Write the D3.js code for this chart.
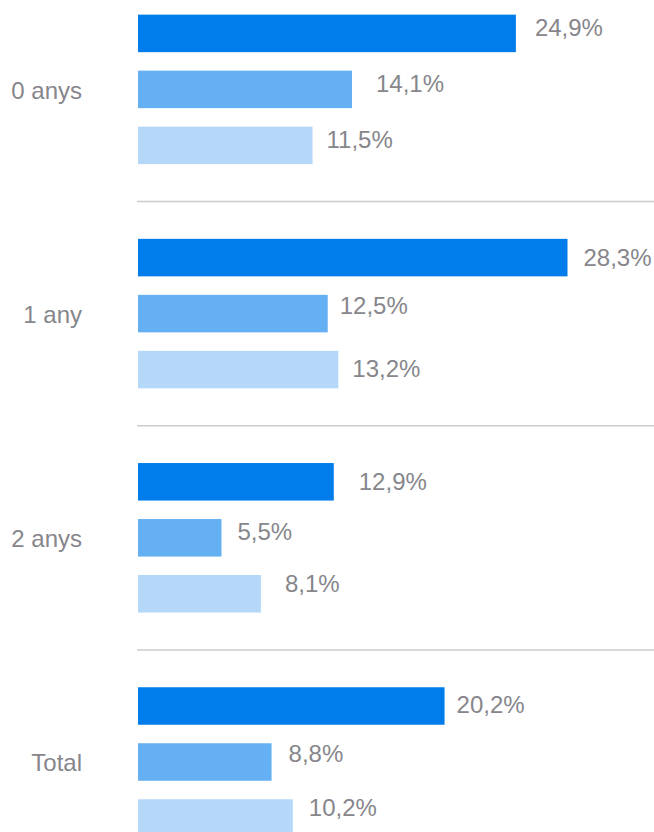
<!DOCTYPE html>
<html lang="ca">
<head>
<meta charset="utf-8">
<script src="https://cdn.jsdelivr.net/npm/d3@7"></script>
<style>
  html, body { margin: 0; padding: 0; background: #ffffff; }
  svg { display: block; }
  text { font-family: "Liberation Sans", Arial, Helvetica, sans-serif; }
</style>
</head>
<body>
<div id="chart"></div>
<script>
// Age groups and the three series shown for each of them
const groups = ["0 anys", "1 any", "2 anys", "Total"];
const seriesKeys = ["s1", "s2", "s3"];

// Percentages per series, in the order of `groups`
const s1Values = [24.9, 28.3, 12.9, 20.2];
const s2Values = [14.1, 12.5, 5.5, 8.8];
const s3Values = [11.5, 13.2, 8.1, 10.2];

const seriesColors = ["#007dea", "#64b0f3", "#b5d8f8"];

// Small hand adjustments of the value labels (px), one row per group
const labelGapX = [[19, 24, 14], [16, 12, 14], [25, 16, 24], [12, 17, 16]];
const labelShiftY = [[-5.5, -5.5, -5.5], [0, -8.5, -1], [-0.5, -6, -10], [-1, -8, -10]];

const width = 654, height = 832;
const plotLeft = 138, plotRight = 654;
const groupStep = 224.2, firstGroupTop = -22.7;

const rows = [];
groups.forEach((g, gi) => {
  const vals = [s1Values[gi], s2Values[gi], s3Values[gi]];
  seriesKeys.forEach((k, si) => rows.push({ group: g, gi, key: k, si, value: vals[si] }));
});

const svg = d3.select("#chart").append("svg")
  .attr("width", width).attr("height", height)
  .attr("viewBox", [0, 0, width, height]);

const x = d3.scaleLinear().domain([0, 34]).range([plotLeft, plotRight]);

const y = d3.scaleBand()
  .domain(groups)
  .range([firstGroupTop, firstGroupTop + groupStep * groups.length])
  .paddingInner(0).paddingOuter(0);

const yInner = d3.scaleBand()
  .domain(seriesKeys)
  .range([0, y.bandwidth()])
  .paddingInner(0.33).paddingOuter(0.667);

const color = d3.scaleOrdinal().domain(seriesKeys).range(seriesColors);

const locale = d3.formatLocale({ decimal: ",", thousands: ".", grouping: [3], currency: ["", " €"] });
const fmt = v => locale.format(".1f")(v) + "%";

// Separators between groups
svg.append("g")
  .selectAll("line")
  .data(groups.slice(1))
  .join("line")
  .attr("x1", plotLeft - 1).attr("x2", plotRight)
  .attr("y1", d => y(d)).attr("y2", d => y(d))
  .attr("stroke", "#cccccc").attr("stroke-width", 1.5);

// Bars
svg.append("g")
  .selectAll("rect")
  .data(rows)
  .join("rect")
  .attr("x", x(0))
  .attr("y", d => y(d.group) + yInner(d.key))
  .attr("width", d => x(d.value) - x(0))
  .attr("height", yInner.bandwidth())
  .attr("fill", d => color(d.key));

// Value labels
svg.append("g")
  .selectAll("text")
  .data(rows)
  .join("text")
  .attr("x", d => x(d.value) + labelGapX[d.gi][d.si])
  .attr("y", d => y(d.group) + yInner(d.key) + yInner.bandwidth() / 2 + labelShiftY[d.gi][d.si])
  .attr("dy", "0.35em")
  .attr("font-size", 24)
  .attr("fill", "#86868b")
  .text(d => fmt(d.value));

// Group labels
svg.append("g")
  .selectAll("text")
  .data(groups)
  .join("text")
  .attr("x", 82)
  .attr("y", d => y(d) + yInner("s2") + yInner.bandwidth() / 2 + 1)
  .attr("dy", "0.35em")
  .attr("text-anchor", "end")
  .attr("font-size", 24)
  .attr("fill", "#86868b")
  .text(d => d);
</script>
</body>
</html>
